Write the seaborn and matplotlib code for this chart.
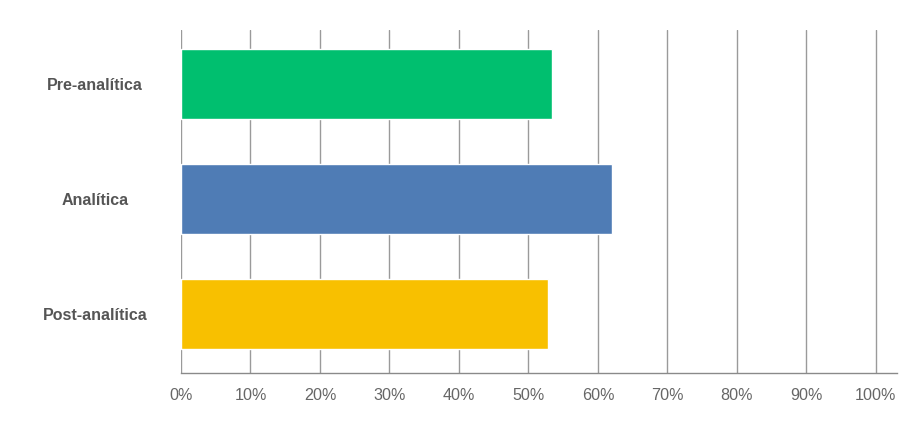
import matplotlib
matplotlib.use("Agg")
import matplotlib.pyplot as plt
import seaborn as sns
import pandas as pd
from matplotlib.ticker import PercentFormatter


# -------------------------
# DATA
# -------------------------
categories = ["Pre-analítica", "Analítica", "Post-analítica"]
values = [53.4, 62.1, 52.8]
colors = ["#00BF6F", "#4F7CB5", "#F8C000"]
x_ticks = [0, 10, 20, 30, 40, 50, 60, 70, 80, 90, 100]


# -------------------------
# PLOT
# -------------------------
def plot_bars():
    df = pd.DataFrame({"fase": categories, "pct": values})

    sns.set_style("white")
    plt.rcParams["font.family"] = ["Liberation Sans", "DejaVu Sans"]

    fig = plt.figure(figsize=(9.21, 4.32), dpi=100)
    ax = fig.add_axes([0.1965, 0.1366, 0.7771, 0.794])

    sns.barplot(data=df, x="pct", y="fase", hue="fase", palette=colors,
                orient="h", width=0.61, legend=False, saturation=1, ax=ax,
                zorder=3)

    ax.set_xlim(0, 103)
    ax.set_ylim(2.51, -0.47)
    ax.set_xticks(x_ticks)
    ax.xaxis.set_major_formatter(PercentFormatter(decimals=0))

    ax.grid(axis="x", color="#9a9a9a", linewidth=1, zorder=0)
    ax.grid(axis="y", visible=False)
    for side in ["top", "right", "left"]:
        ax.spines[side].set_visible(False)
    ax.spines["bottom"].set_color("#8a8a8a")
    ax.spines["bottom"].set_linewidth(1)

    ax.set_xlabel("")
    ax.set_ylabel("")
    ax.tick_params(axis="x", length=0, pad=11, labelsize=11.6, labelcolor="#666666")
    ax.tick_params(axis="y", length=0, pad=62, labelsize=11.5, labelcolor="#555555")
    for lbl in ax.get_yticklabels():
        lbl.set_fontweight("bold")
        lbl.set_horizontalalignment("center")

    fig.savefig("out.png", dpi=100)


if __name__ == "__main__":
    plot_bars()
